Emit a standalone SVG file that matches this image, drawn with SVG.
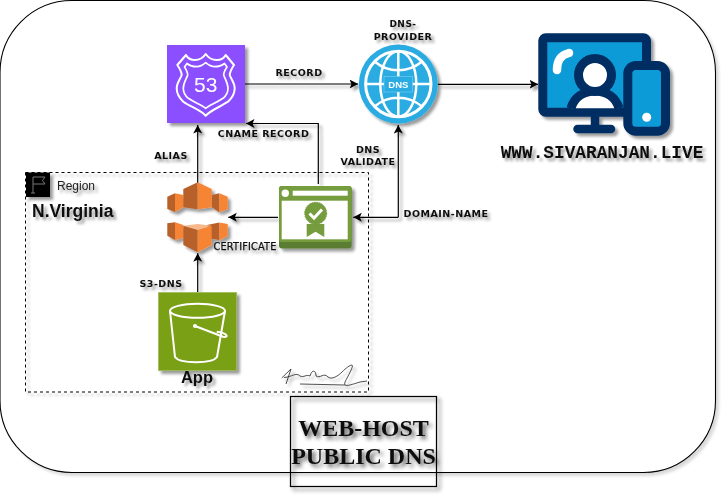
<svg xmlns="http://www.w3.org/2000/svg" width="727" height="498" viewBox="0 0 727 498">
<style>
.lb{font-family:"DejaVu Sans",sans-serif;font-size:9.5px;font-weight:bold;fill:#111;text-anchor:middle;letter-spacing:.5px}
.c{fill:none;stroke:#000;stroke-width:1.2}
.w{fill:none;stroke:#fff;stroke-width:2;stroke-linejoin:round}
.d{fill:#b7602a}
.o{fill:#f58536}
</style>
<defs>
<filter id="sh" x="-20%" y="-20%" width="150%" height="150%"><feGaussianBlur in="SourceAlpha" stdDeviation="1.800"/><feOffset dx="3" dy="3"/><feComponentTransfer><feFuncA type="linear" slope=".4"/></feComponentTransfer><feMerge><feMergeNode/><feMergeNode in="SourceGraphic"/></feMerge></filter>
<filter id="sht" x="-20%" y="-20%" width="150%" height="150%"><feGaussianBlur in="SourceAlpha" stdDeviation="2"/><feOffset dx="3" dy="3"/><feComponentTransfer><feFuncA type="linear" slope=".65"/></feComponentTransfer><feMerge><feMergeNode/><feMergeNode in="SourceGraphic"/></feMerge></filter>
<filter id="shf" x="-5%" y="-5%" width="110%" height="110%"><feGaussianBlur in="SourceAlpha" stdDeviation="1.800"/><feOffset dx="3" dy="3"/><feComponentTransfer><feFuncA type="linear" slope=".15"/></feComponentTransfer><feMerge><feMergeNode/><feMergeNode in="SourceGraphic"/></feMerge></filter>
<marker id="a" markerWidth="9" markerHeight="10" refX="8.500" refY="4.500" orient="auto" markerUnits="userSpaceOnUse"><path d="M0 0L8.500 4.500L0 9L2 4.500Z" fill="#000"/></marker>
</defs>
<rect id="frame" x="0" y="0.500" width="715.500" height="472" rx="72" ry="72" fill="#fff" stroke="#000" stroke-width="1.100" filter="url(#shf)"/>
<g id="region" filter="url(#sh)">
<rect x="25.500" y="172.500" width="343" height="219.500" fill="none" stroke="#000" stroke-dasharray="3 3"/>
<rect x="26" y="172.500" width="24" height="24.500" fill="#000"/>
<path d="M33 193V177H45L42.500 180.500L45 184H33M31 193H35" fill="none" stroke="#777" stroke-width="1"/>
<text x="57" y="190" font-family="Liberation Sans,Arial,sans-serif" font-size="12" fill="#222">Region</text>
<text x="32" y="217" font-family="Liberation Sans,Arial,sans-serif" font-size="17.500" font-weight="bold" fill="#111">N.Virginia</text>
</g>
<g id="connectors" filter="url(#sh)">
<path class="c" d="M245 84H358" marker-end="url(#a)"/>
<path class="c" d="M438 84.300H538" marker-end="url(#a)"/>
<path class="c" d="M318.300 184V123.500H246" marker-end="url(#a)"/>
<path class="c" d="M197.700 183V125" marker-end="url(#a)"/>
<path class="c" d="M398.300 217.300V125" marker-end="url(#a)"/>
<path class="c" d="M398.300 217.300H353.300" marker-end="url(#a)"/>
<path class="c" d="M278 217.300H228.300" marker-end="url(#a)"/>
<path class="c" d="M197.700 292V253.300" marker-end="url(#a)"/>
</g>
<g id="route53" filter="url(#sh)">
<rect x="167" y="45" width="78" height="78" fill="#8c4fff"/>
<path class="w" d="M186 55C188 59 191 60 195 60C199 60 203 58 205.700 54C208.400 58 212.400 60 216.700 60C220.400 60 223.400 59 225.700 55L234 65C232 68 230 71 229.700 75C231 79 234.700 83 234.700 88.300C234.700 94 232 98 228 101.700C220 107 211 110 205.700 115.700C200.400 110 191 107 183.300 101.700C179.400 98 176.700 94 176.700 88.300C176.700 83 180.400 79 181.700 75C181.400 71 179.400 68 177.300 65Z"/>
<path class="w" style="stroke-width:1.700" d="M187 63.500C190 66 193 66.700 196.700 66.700C200 66.700 203 65 205.700 62.700C208.400 65 211.400 66.700 214.700 66.700C218.400 66.700 221.400 66 224.500 63.500L227 67C225 70 223.700 72 223.700 75C225 79 228 83 228 88.300C228 93 226 96 223 98.300C216 103 210 105 205.700 108.300C201.400 105 195.400 103 188.300 98.300C185.400 96 183.300 93 183.300 88.300C183.300 83 186.400 79 187.700 75C187.700 72 186.400 70 184.500 67Z"/>
<text x="205.700" y="91.700" font-family="Liberation Sans,Arial,sans-serif" font-size="21" fill="#fff" text-anchor="middle">53</text>
</g>
<g id="dns" filter="url(#sh)">
<circle cx="398.300" cy="84" r="39.500" fill="#29abe2"/>
<circle cx="398.300" cy="84" r="32.700" fill="none" stroke="#fff" stroke-width="3"/>
<g fill="none" stroke="#fff" stroke-width="2.500">
<ellipse cx="398.300" cy="84" rx="18" ry="32.700"/>
<path d="M398.300 51.300V116.700M375 61.700C388 73 408 73 421.700 61.700M375 106.300C388 95 408 95 421.700 106.300M365.600 84H431"/>
</g>
<rect x="384" y="76.500" width="28.500" height="15.500" fill="#29abe2" stroke="#7fd0f0" stroke-width=".6"/>
<text x="398.300" y="87.800" font-family="Liberation Sans,Arial,sans-serif" font-size="9.500" font-weight="bold" fill="#fff" text-anchor="middle">DNS</text>
</g>
<g id="website" filter="url(#sh)">
<rect x="542.800" y="37.800" width="103.700" height="74.400" rx="3" fill="#0f9bd7" stroke="#002d62" stroke-width="9" stroke-linejoin="round"/>
<path d="M595 116V128M577.500 129H611" stroke="#002d62" stroke-width="8.500" stroke-linecap="round" fill="none"/>
<path d="M557 70C557 60 561 55 569 53" stroke="#fff" stroke-width="8.500" stroke-linecap="round" fill="none"/>
<path d="M571 108.300C574 97 584 91 595 91C606 91 616 97 619 108.300Z" fill="#fff"/>
<path d="M571 108.300C574 97 584 91 595 91C606 91 616 97 619 108.300" fill="none" stroke="#002d62" stroke-width="9"/>
<circle cx="595" cy="75" r="16.500" fill="#fff" stroke="#002d62" stroke-width="9"/>
<rect x="627.800" y="65.500" width="37.700" height="65.700" rx="8" fill="#0f9bd7" stroke="#002d62" stroke-width="9"/>
<circle cx="646.700" cy="117.300" r="4.500" fill="#fff"/>
<text x="602" y="157.700" font-family="Liberation Mono,monospace" font-size="17.800" font-weight="bold" fill="#111" text-anchor="middle">WWW.SIVARANJAN.LIVE</text>
</g>
<g id="cloudfront" filter="url(#sh)">
<path class="d" d="M167.300 196.700L175 193.300V212L167.300 209Z"/>
<path class="o" d="M175 193.300L183.300 195V207.300L175 212Z"/>
<path class="d" d="M211.700 195L219.300 193.300V212.300L211.700 207.300Z"/>
<path class="o" d="M219.300 193.300L227.700 196.700V209L219.300 212.300Z"/>
<path class="d" d="M183.300 189L197.700 182.300V209.300L183.300 207.300Z"/>
<path class="o" d="M197.700 182.300L211.700 189V207.300L197.700 209.300Z"/>
<path class="d" d="M167.300 223.300L175 222.300V240L167.300 235.700Z"/>
<path class="o" d="M175 222.300L183.300 225V238L175 240Z"/>
<path class="d" d="M207 225L219.300 222.600V240L207 238Z"/>
<path class="o" d="M219.300 222.600L227.700 224V236L219.300 240.600Z"/>
<path d="M183.300 225.700L197.700 224L211.700 225.700L197.700 230Z" fill="#f8b98a"/>
<path class="d" d="M183.300 225.700L197.700 230V252.300L183.300 245Z"/>
<path class="o" d="M197.700 230L211.700 225.700V245L197.700 252.300Z"/>
</g>
<g id="certificate" filter="url(#sh)">
<rect x="279" y="186" width="72.700" height="62.500" rx="3" fill="#5a7d33"/>
<rect x="279" y="186" width="72.700" height="56" rx="3" fill="#759c3e"/>
<rect x="281.700" y="200.700" width="66" height="38.600" fill="#fff"/>
<circle cx="285.300" cy="193.300" r="3.700" fill="#fff"/>
<rect x="292.700" y="190.700" width="55" height="5" fill="#fff"/>
<path d="M306.700 224V237L315.500 231.700L324.300 237V224Z" fill="#759c3e"/>
<circle cx="315.700" cy="213.300" r="11" fill="#759c3e" stroke="#759c3e" stroke-dasharray="1.500 1" stroke-width="1"/>
<path d="M309.500 213.500L314 218L322 209.500" fill="none" stroke="#fff" stroke-width="3"/>
</g>
<g id="s3" filter="url(#sh)">
<rect x="158.300" y="292.300" width="78.400" height="78.400" fill="#7aa116" stroke="#a8c070" stroke-width=".6"/>
<ellipse cx="197.500" cy="310.800" rx="27.500" ry="7" fill="none" stroke="#fff" stroke-width="2"/>
<path d="M170 311L175 357C180 364 212 364 217 357L225 311" fill="none" stroke="#fff" stroke-width="2"/>
<circle cx="195" cy="326" r="2" fill="#fff"/>
<path d="M195 326L223 336.700C229 338 228 333 216.700 331.700" fill="none" stroke="#fff" stroke-width="2"/>
<text x="197" y="383.300" font-family="Liberation Sans,Arial,sans-serif" font-size="16.500" font-weight="bold" fill="#111" text-anchor="middle">App</text>
</g>
<g id="labels" filter="url(#sh)">
<text class="lb" x="299" y="76">RECORD</text>
<text class="lb" x="263.500" y="137">CNAME RECORD</text>
<text class="lb" x="171" y="159">ALIAS</text>
<text class="lb" x="403" y="27" style="font-size:9px">DNS-</text>
<text class="lb" x="403" y="40">PROVIDER</text>
<text class="lb" x="368" y="153">DNS</text>
<text class="lb" x="368" y="165">VALIDATE</text>
<text class="lb" x="446" y="217">DOMAIN-NAME</text>
<text class="lb" x="245" y="250" style="font-weight:normal;letter-spacing:.2px;font-size:9.700px;stroke:#111;stroke-width:.25">CERTIFICATE</text>
<text class="lb" x="161" y="287">S3-DNS</text>
</g>
<g id="signature" filter="url(#sh)">
<path d="M281.700 378L291 369L286 384M284 377.500C292 377 296 372 300 376C304 378 306 374 310 376C312 369 316 370 316 376C320 379 324 372 328 377C332 380 338 376 342 372C346 368 350 365 352 365C354 366 348 376 345 382C343 388 350 385 360 382L367 381M300 384L345 385" fill="none" stroke="#222" stroke-width=".8"/>
</g>
<g id="title" filter="url(#sht)">
<rect x="290.500" y="396.500" width="146" height="90" fill="none" stroke="#000" stroke-width="1.200"/>
<text x="363.500" y="436" font-family="Liberation Serif,serif" font-size="24" font-weight="bold" fill="#111" text-anchor="middle">WEB-HOST</text>
<text x="363.500" y="464" font-family="Liberation Serif,serif" font-size="24" font-weight="bold" fill="#111" text-anchor="middle">PUBLIC DNS</text>
</g>
</svg>
